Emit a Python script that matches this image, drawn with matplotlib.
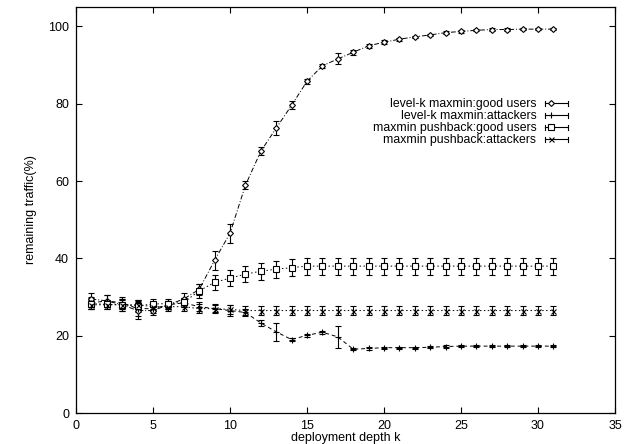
import numpy as np
import matplotlib
matplotlib.use("Agg")
import matplotlib.pyplot as plt
from matplotlib.legend_handler import HandlerBase
from matplotlib.lines import Line2D

plt.rcParams['font.family'] = ['Liberation Sans', 'DejaVu Sans']

depth = list(range(1, 32))

lk_good = [29.5, 29.0, 28.0, 26.5, 26.5, 28.0, 29.5, 32.0, 39.5, 46.5, 58.9, 67.7, 73.7, 79.6, 85.8,
           89.8, 91.6, 93.3, 95.0, 95.9, 96.7, 97.3, 97.8, 98.4, 98.7, 99.0, 99.2, 99.2, 99.3, 99.3, 99.3]
lk_good_err = [1.5, 1.5, 1.5, 2.2, 1.2, 1.0, 1.5, 1.5, 2.5, 2.5, 1.0, 1.0, 1.8, 1.0, 0.6,
               0.6, 1.4, 0.6, 0.5, 0.5, 0.4, 0.3, 0.3, 0.3, 0.3, 0.3, 0.3, 0.3, 0.3, 0.3, 0.3]

lk_att = [28.5, 29.0, 28.5, 27.0, 27.0, 28.0, 28.5, 27.5, 27.0, 26.5, 26.0, 23.3, 21.0, 19.0, 20.1,
          20.9, 19.7, 16.5, 16.7, 16.9, 16.9, 16.9, 17.0, 17.2, 17.3, 17.3, 17.3, 17.3, 17.3, 17.3, 17.3]
lk_att_err = [1.5, 1.5, 1.5, 2.0, 1.2, 1.0, 1.2, 1.2, 1.0, 1.5, 1.0, 0.8, 2.4, 0.5, 0.4,
              0.4, 2.9, 0.3, 0.3, 0.3, 0.3, 0.3, 0.3, 0.3, 0.3, 0.3, 0.3, 0.3, 0.3, 0.3, 0.3]

pb_good = [28.3, 28.1, 28.0, 27.7, 28.2, 28.3, 28.6, 31.6, 33.8, 34.9, 35.9, 36.7, 37.2, 37.6, 38.0,
           38.0, 38.0, 38.0, 38.0, 38.0, 38.0, 38.0, 38.0, 38.0, 38.0, 38.0, 38.0, 38.0, 38.0, 38.0, 38.0]
pb_good_err = [1.5, 1.2, 1.5, 1.5, 1.2, 1.2, 1.2, 1.8, 2.0, 2.0, 2.0, 2.2, 2.2, 2.2, 2.2,
               2.2, 2.2, 2.2, 2.2, 2.2, 2.2, 2.2, 2.2, 2.2, 2.2, 2.2, 2.2, 2.2, 2.2, 2.2, 2.2]

pb_att = [28.0, 28.0, 28.0, 28.0, 27.5, 27.5, 27.5, 27.0, 27.0, 26.8, 26.5, 26.5, 26.5, 26.5, 26.5,
          26.5, 26.5, 26.5, 26.5, 26.5, 26.5, 26.5, 26.5, 26.5, 26.5, 26.5, 26.5, 26.5, 26.5, 26.5, 26.5]
pb_att_err = [1.2] * 31

labels = ["level-k maxmin:good users", "level-k maxmin:attackers",
          "maxmin pushback:good users", "maxmin pushback:attackers"]

fig = plt.figure(figsize=(6.34, 4.44), dpi=100)
ax = fig.add_axes([0.1199, 0.0698, 0.8501, 0.9142])

styles = [
    (lk_good, lk_good_err, 'D', 3.0, (0, (5, 2, 1, 2))),
    (lk_att, lk_att_err, '+', 4.0, (0, (4, 3))),
    (pb_good, pb_good_err, 's', 4.0, (0, (1.5, 2.5))),
    (pb_att, pb_att_err, 'x', 3.6, (0, (1.5, 2.5))),
]

handles = []
for (vals, errs, mk, ms, ls), lab in zip(styles, labels):
    ax.errorbar(depth, vals, yerr=errs, fmt='none', ecolor='black', elinewidth=0.8,
                capsize=2.2, capthick=0.8, zorder=2)
    ax.plot(depth, vals, color='black', linestyle=ls, linewidth=0.7,
            marker=mk, markersize=ms, markerfacecolor='white', markeredgecolor='black',
            markeredgewidth=0.8, zorder=3)
    handles.append(Line2D([], [], color='black', marker=mk, markersize=ms,
                          markerfacecolor='white', markeredgewidth=0.8, linewidth=0.8, label=lab))


class HandlerErrLine(HandlerBase):
    def create_artists(self, legend, orig_handle, xdescent, ydescent, width, height, fontsize, trans):
        y = height / 2.0 - ydescent
        x0 = -xdescent
        x1 = -xdescent + width
        line = Line2D([x0, x1], [y, y], color='black', linewidth=0.8, transform=trans)
        cap = height * 0.3
        c1 = Line2D([x0, x0], [y - cap, y + cap], color='black', linewidth=0.8, transform=trans)
        c2 = Line2D([x1, x1], [y - cap, y + cap], color='black', linewidth=0.8, transform=trans)
        mk = Line2D([x0 + width * 0.25], [y], marker=orig_handle.get_marker(),
                    markersize=orig_handle.get_markersize(), markerfacecolor='white',
                    markeredgecolor='black', markeredgewidth=0.8, linestyle='none', transform=trans)
        return [line, c1, c2, mk]


leg = ax.legend(handles=handles, handler_map={Line2D: HandlerErrLine()},
                loc='upper right', bbox_to_anchor=(0.922, 0.787), frameon=False,
                markerfirst=False, fontsize=8.8, handlelength=1.9, handletextpad=0.7,
                labelspacing=0.0, borderaxespad=0)
for t in leg.get_texts():
    t.set_ha('right')

ax.set_xlim(0, 35)
ax.set_ylim(0, 105)
ax.set_xticks(range(0, 36, 5))
ax.set_yticks(range(0, 101, 20))
ax.tick_params(direction='in', top=True, right=True, length=4, width=0.8, labelsize=9, pad=5)
for s in ax.spines.values():
    s.set_linewidth(0.9)

ax.set_xlabel("deployment depth k", fontsize=9, labelpad=0)
ax.set_ylabel("remaining traffic(%)", fontsize=9, labelpad=8)

fig.savefig("out.png", dpi=100)
